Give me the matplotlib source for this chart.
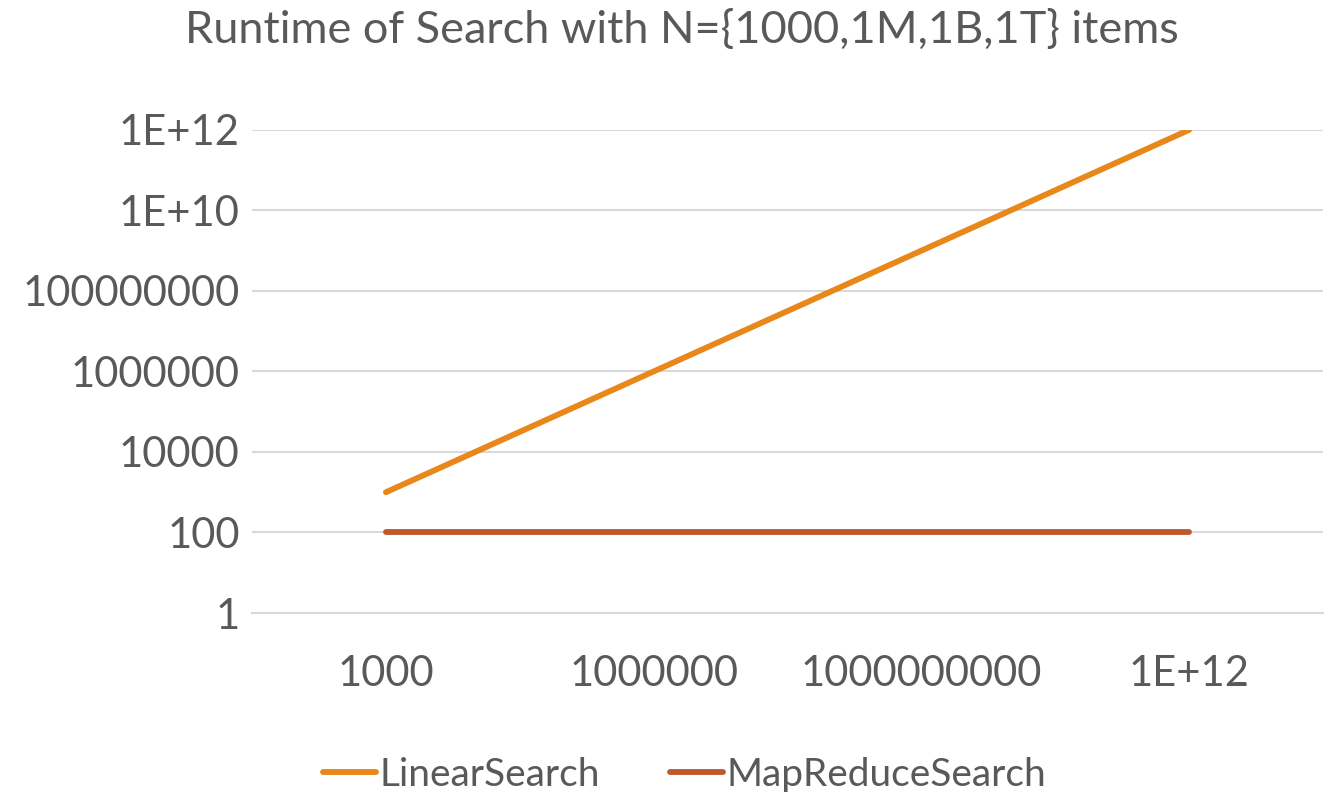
import matplotlib
matplotlib.use('Agg')
import matplotlib.pyplot as plt
import numpy as np

# data
categories = ['1000', '1000000', '1000000000', '1E+12']
linear_search = [1e3, 1e6, 1e9, 1e12]
mapreduce_search = [100, 100, 100, 100]
y_ticks = [1, 1e2, 1e4, 1e6, 1e8, 1e10, 1e12]
y_tick_labels = ['1', '100', '10000', '1000000', '100000000', '1E+10', '1E+12']

plt.rcParams['font.family'] = ['Lato', 'DejaVu Sans']
grey = '#595959'

fig = plt.figure(figsize=(13.3, 7.92), dpi=100)
ax = fig.add_axes([0.1895, 0.226, 0.8052, 0.61])

x = np.arange(len(categories))
ax.plot(x, linear_search, color='#E8871A', lw=4.2, solid_capstyle='round',
        label='LinearSearch', zorder=3)
ax.plot(x, mapreduce_search, color='#C0582E', lw=4.2, solid_capstyle='round',
        label='MapReduceSearch', zorder=3)

ax.set_yscale('log')
ax.set_ylim(1, 1e12)
ax.set_xlim(-0.5, len(categories) - 0.5)
ax.set_yticks(y_ticks)
ax.set_yticklabels(y_tick_labels)
ax.minorticks_off()
ax.set_xticks(x)
ax.set_xticklabels(categories)
ax.tick_params(axis='both', length=0, labelsize=30, labelcolor=grey)
ax.tick_params(axis='y', pad=9)
ax.tick_params(axis='x', pad=30)

ax.grid(axis='y', color='#D9D9D9', lw=1.5)
ax.set_axisbelow(True)
for s in ['top', 'right', 'left']:
    ax.spines[s].set_visible(False)
ax.spines['bottom'].set_color('#D9D9D9')
ax.spines['bottom'].set_linewidth(1.5)

fig.text(0.513, 0.962, 'Runtime of Search with N={1000,1M,1B,1T} items',
         ha='center', va='center', fontsize=32.5, color=grey)

fig.legend(loc='lower center', bbox_to_anchor=(0.515, -0.045), ncol=2,
           frameon=False, fontsize=28, labelcolor=grey, handlelength=1.35,
           handletextpad=0.1, columnspacing=1.8)

fig.savefig('out.png', dpi=100)
